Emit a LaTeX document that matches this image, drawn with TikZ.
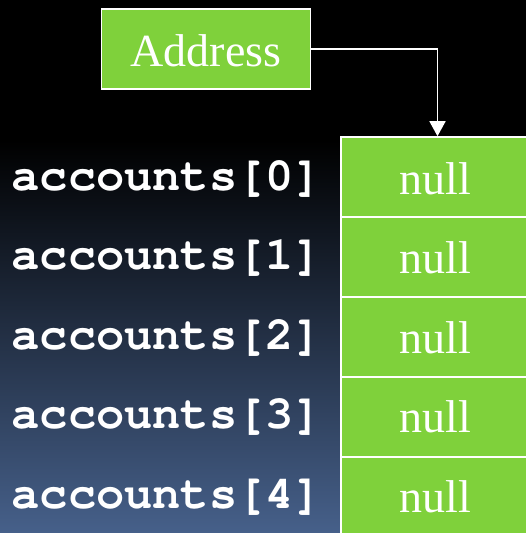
\documentclass[tikz,border=0pt]{standalone}
\usepackage{fontspec}
\setmainfont{Liberation Serif}
\newfontfamily\codefont{TeX Gyre Cursor}
\usetikzlibrary{arrows.meta}
\definecolor{cellgreen}{RGB}{127,209,59}
\definecolor{slatebottom}{RGB}{70,96,138}
\begin{document}
\begin{tikzpicture}[x=1pt,y=-1pt,
  box/.style={draw=white,line width=1.6pt,fill=cellgreen,text=white,
    inner sep=0pt,font=\fontsize{46}{46}\selectfont},
  cell/.style={box,minimum width=188pt,minimum height=80pt},
  idx/.style={anchor=base west,text=white,inner sep=0pt,
    font=\codefont\bfseries\fontsize{47}{46}\selectfont},
  link/.style={draw=white,line width=1.6pt,
    -{Triangle[width=16pt,length=15pt]}}]
  % background: black on top, fading into slate blue
  \useasboundingbox (0,0) rectangle (526,533);
  \fill[black] (0,0) rectangle (526,141);
  \shade[top color=black,bottom color=slatebottom] (0,140) rectangle (526,533);

  \begin{scope}
    \clip (0,0) rectangle (526,533);
    % the array of references
    \foreach \i in {0,...,4}{
      \node[cell] (c\i) at (435,{177+80*\i}) {};
      \node[white,inner sep=0pt,anchor=base,font=\fontsize{46}{46}\selectfont]
        (n\i) at (435,{194+79.5*\i}) {null};
      \node[idx] (a\i) at (11.5,{190+79.5*\i}) {accounts[\i]};
    }
  \end{scope}

  % the variable holding the address
  \node[box,minimum width=209pt,minimum height=80pt] (addr) at (206,49) {};
  \node[white,inner sep=0pt,anchor=base,font=\fontsize{46}{46}\selectfont]
    (addrtext) at (206,66) {Address};

  \draw[link] (addr.east) -| (c0.north -| 437.5,0);
\end{tikzpicture}
\end{document}
